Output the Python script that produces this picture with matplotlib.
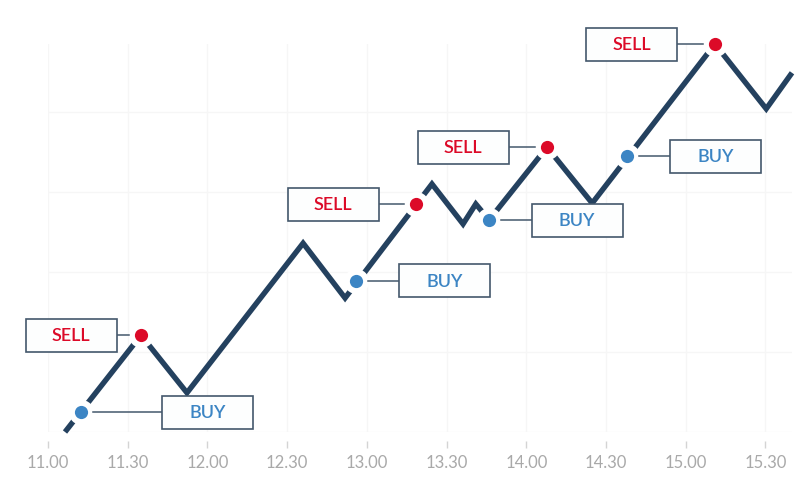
import matplotlib.pyplot as plt
from matplotlib.patches import Rectangle
from matplotlib.transforms import Affine2D

plt.rcParams['font.family'] = ['Lato', 'DejaVu Sans']

# minutes after 11.00, price in grid steps
line_x = [6.4, 35, 52.3, 96, 111.8, 144.5, 156.2, 161, 166, 187.8, 204.8, 251, 270.3, 280]
line_y = [0, 1.21, 0.49, 2.36, 1.675, 3.1, 2.6, 2.85, 2.65, 3.56, 2.86, 4.85, 4.04, 4.49]

buy_x = [12.4, 115.9, 166, 217.9]
buy_y = [0.25, 1.89, 2.65, 3.45]
buy_offset = [127, 89, 88, 89]

sell_x = [35, 138.5, 187.8, 251]
sell_y = [1.21, 2.85, 3.56, 4.85]
sell_offset = [-70, -83, -84, -83]

tick_pos = [0, 30, 60, 90, 120, 150, 180, 210, 240, 270]
tick_labels = ['11.00', '11.30', '12.00', '12.30', '13.00', '13.30', '14.00', '14.30', '15.00', '15.30']

LINE_COLOR = '#24415f'
BOX_COLOR = '#44586c'
BUY_COLOR = '#3c85c4'
SELL_COLOR = '#dc0a28'
BOX_W = 91
BOX_H = 33


def draw_label(ax, x, y, dx, text, color):
    # box and connector are placed in pixels relative to the marker
    px, py = ax.transData.transform((x, y))
    shift = Affine2D().translate(px, py)
    side = 1 if dx > 0 else -1
    ax.plot([px + side * 12, px + dx - side * BOX_W / 2], [py, py], color=BOX_COLOR, lw=1.1,
            transform=None, zorder=4, clip_on=False)
    box = Rectangle((dx - BOX_W / 2, -BOX_H / 2), BOX_W, BOX_H, facecolor='#fdfefe',
                    edgecolor=BOX_COLOR, lw=1.2, transform=shift, zorder=5, clip_on=False)
    ax.add_patch(box)
    ax.text(dx, -1, text, color=color, fontsize=13, fontweight='semibold', ha='center', va='center',
            transform=shift, zorder=6)


fig = plt.figure(figsize=(8, 5), dpi=100)
ax = fig.add_axes([48 / 800, (500 - 432) / 500, 744 / 800, 388 / 500])
ax.set_xlim(0, 280)
ax.set_ylim(0, 4.85)

ax.set_xticks(tick_pos)
ax.set_xticklabels(tick_labels)
ax.set_yticks([0, 1, 2, 3, 4])
ax.grid(True, color='#f6f6f6', lw=1)
ax.set_axisbelow(True)
ax.tick_params(axis='y', left=False, labelleft=False)
ax.tick_params(axis='x', color='#d4d4d4', length=5, width=1, pad=5, labelsize=12, labelcolor='#a9a9a9')
for side in ['top', 'right', 'left']:
    ax.spines[side].set_visible(False)
ax.spines['bottom'].set_position(('outward', 6.5))
ax.spines['bottom'].set_visible(False)

ax.plot(line_x, line_y, color=LINE_COLOR, lw=3.9, solid_joinstyle='miter', solid_capstyle='butt',
        zorder=2, clip_on=False)

# white halo cuts the line around each marker
ax.plot(buy_x + sell_x, buy_y + sell_y, 'o', color='white', ms=18, mew=0, zorder=3, clip_on=False)
ax.plot(buy_x, buy_y, 'o', color=BUY_COLOR, ms=9.5, mew=0, zorder=4, clip_on=False)
ax.plot(sell_x, sell_y, 'o', color=SELL_COLOR, ms=9.5, mew=0, zorder=4, clip_on=False)

for i in range(len(buy_x)):
    draw_label(ax, buy_x[i], buy_y[i], buy_offset[i], 'BUY', BUY_COLOR)
for i in range(len(sell_x)):
    draw_label(ax, sell_x[i], sell_y[i], sell_offset[i], 'SELL', SELL_COLOR)

fig.savefig('out.png', dpi=100)
